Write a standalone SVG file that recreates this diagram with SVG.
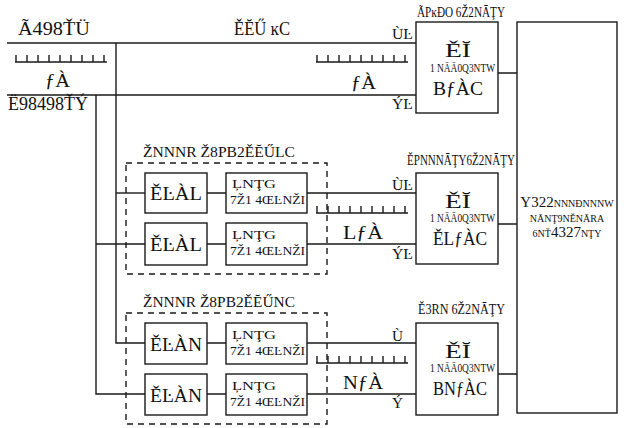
<svg xmlns="http://www.w3.org/2000/svg" width="624" height="428" viewBox="0 0 624 428">
<style>
  .ln { stroke: #1a1a1a; stroke-width: 1.4; fill: none; }
  .bx { stroke: #1a1a1a; stroke-width: 1.4; fill: #fff; }
  .dash { stroke: #1a1a1a; stroke-width: 1.4; fill: none; stroke-dasharray: 6 5; }
  text { font-family: "Liberation Serif", "DejaVu Serif", serif; fill: #111; }
  .lg { font-size: 19px; }
  .md { font-size: 15px; }
  .sm { font-size: 13px; }
  .xs { font-size: 10px; }
</style>
<defs>
  <g id="scale">
    <path class="ln" d="M0 8 H92 M1 8 V1 M12 8 V1 M23 8 V1 M34 8 V1 M45 8 V1 M56 8 V1 M67 8 V1 M78 8 V1 M89 8 V1"/>
  </g>
</defs>

<!-- connectors -->
<g id="connectors">
  <path class="ln" d="M7 43 H416"/>
  <path class="ln" d="M7 95 H416"/>
  <path class="ln" d="M116 43 V343 H145"/>
  <path class="ln" d="M96 95 V394 H145"/>
  <path class="ln" d="M116 193 H145"/>
  <path class="ln" d="M96 244 H145"/>
  <path class="ln" d="M207 193 H226 M207 244 H226 M207 343 H226 M207 394 H226"/>
  <path class="ln" d="M307 193 H416 M307 244 H416 M307 343 H416 M307 394 H416"/>
  <path class="ln" d="M498 73 H517 M498 224 H517 M498 374 H517"/>
</g>

<!-- scales and line labels -->
<g id="annotations">
  <use href="#scale" x="15" y="54"/>
  <use href="#scale" x="316" y="54"/>
  <use href="#scale" x="316" y="205"/>
  <use href="#scale" x="316" y="355"/>
  <text class="lg" x="18" y="35" textLength="72" lengthAdjust="spacingAndGlyphs">Ã498ŤÜ</text>
  <text class="lg" x="234" y="35" textLength="56" lengthAdjust="spacingAndGlyphs">ĚĔŰ ĸC</text>
  <text class="lg" x="45" y="87" textLength="25" lengthAdjust="spacingAndGlyphs">ƒÀ</text>
  <text class="lg" x="8" y="110" textLength="80" lengthAdjust="spacingAndGlyphs">Ë98498ŤÝ</text>
  <text class="lg" x="351" y="89" textLength="25" lengthAdjust="spacingAndGlyphs">ƒÀ</text>
  <text class="lg" x="343" y="239" textLength="40" lengthAdjust="spacingAndGlyphs">LƒÀ</text>
  <text class="lg" x="343" y="389" textLength="40" lengthAdjust="spacingAndGlyphs">NƒÀ</text>
  <text class="md" x="392" y="39" textLength="21" lengthAdjust="spacingAndGlyphs">ÙĿ</text>
  <text class="md" x="392" y="109" textLength="21" lengthAdjust="spacingAndGlyphs">ÝĿ</text>
  <text class="md" x="392" y="190" textLength="21" lengthAdjust="spacingAndGlyphs">ÙĿ</text>
  <text class="md" x="392" y="259" textLength="21" lengthAdjust="spacingAndGlyphs">ÝĿ</text>
  <text class="md" x="392" y="341" textLength="11" lengthAdjust="spacingAndGlyphs">Ù</text>
  <text class="md" x="392" y="408" textLength="11" lengthAdjust="spacingAndGlyphs">Ý</text>
</g>

<!-- group 1 -->
<g id="group1">
  <text class="md" x="143" y="157" textLength="152" lengthAdjust="spacingAndGlyphs">ŽNNNR Ž8PB2ĚĔŰLC</text>
  <rect class="dash" x="126" y="163" width="201" height="111"/>
</g>
<g id="nodeA1">
  <rect class="bx" x="145" y="173" width="62" height="40"/>
  <text class="lg" x="176" y="200" text-anchor="middle" textLength="52" lengthAdjust="spacingAndGlyphs">ĚĿÀL</text>
</g>
<g id="nodeB1">
  <rect class="bx" x="226" y="173" width="81" height="40"/>
  <text class="sm" x="232" y="188" textLength="44" lengthAdjust="spacingAndGlyphs">ĻNŢG</text>
  <text class="sm" x="230" y="204" textLength="75" lengthAdjust="spacingAndGlyphs">7Ž1 4ŒĿNŽI</text>
</g>
<g id="nodeA2">
  <rect class="bx" x="145" y="223" width="62" height="42"/>
  <text class="lg" x="176" y="251" text-anchor="middle" textLength="52" lengthAdjust="spacingAndGlyphs">ĚĿÀL</text>
</g>
<g id="nodeB2">
  <rect class="bx" x="226" y="223" width="81" height="42"/>
  <text class="sm" x="232" y="239" textLength="44" lengthAdjust="spacingAndGlyphs">ĻNŢG</text>
  <text class="sm" x="230" y="255" textLength="75" lengthAdjust="spacingAndGlyphs">7Ž1 4ŒĿNŽI</text>
</g>

<!-- group 2 -->
<g id="group2">
  <text class="md" x="143" y="307" textLength="152" lengthAdjust="spacingAndGlyphs">ŽNNNR Ž8PB2ĚĔŰNC</text>
  <rect class="dash" x="126" y="313" width="201" height="111"/>
</g>
<g id="nodeA3">
  <rect class="bx" x="145" y="323" width="62" height="41"/>
  <text class="lg" x="176" y="351" text-anchor="middle" textLength="52" lengthAdjust="spacingAndGlyphs">ĚĿÀN</text>
</g>
<g id="nodeB3">
  <rect class="bx" x="226" y="323" width="81" height="41"/>
  <text class="sm" x="232" y="339" textLength="44" lengthAdjust="spacingAndGlyphs">ĻNŢG</text>
  <text class="sm" x="230" y="355" textLength="75" lengthAdjust="spacingAndGlyphs">7Ž1 4ŒĿNŽI</text>
</g>
<g id="nodeA4">
  <rect class="bx" x="145" y="374" width="62" height="41"/>
  <text class="lg" x="176" y="402" text-anchor="middle" textLength="52" lengthAdjust="spacingAndGlyphs">ĚĿÀN</text>
</g>
<g id="nodeB4">
  <rect class="bx" x="226" y="374" width="81" height="41"/>
  <text class="sm" x="232" y="390" textLength="44" lengthAdjust="spacingAndGlyphs">ĻNŢG</text>
  <text class="sm" x="230" y="406" textLength="75" lengthAdjust="spacingAndGlyphs">7Ž1 4ŒĿNŽI</text>
</g>

<!-- right-hand units -->
<g id="unit1">
  <text class="md" x="417" y="17" textLength="88" lengthAdjust="spacingAndGlyphs">ÃPĸĐO 6Ž2NĀŢY</text>
  <rect class="bx" x="416" y="22" width="82" height="91"/>
  <text class="lg" x="458" y="57" text-anchor="middle" textLength="26" lengthAdjust="spacingAndGlyphs">ĚĬ</text>
  <text class="sm" x="430" y="72" textLength="65" lengthAdjust="spacingAndGlyphs">1 NĀĀ0Q3NTW</text>
  <text class="lg" x="433" y="95" textLength="50" lengthAdjust="spacingAndGlyphs">BƒÀC</text>
</g>
<g id="unit2">
  <text class="md" x="407" y="165" textLength="108" lengthAdjust="spacingAndGlyphs">ĚPNNNĀŢY6Ž2NĀŢY</text>
  <rect class="bx" x="416" y="173" width="82" height="91"/>
  <text class="lg" x="458" y="208" text-anchor="middle" textLength="26" lengthAdjust="spacingAndGlyphs">ĚĬ</text>
  <text class="sm" x="430" y="222" textLength="65" lengthAdjust="spacingAndGlyphs">1 NĀĀ0Q3NTW</text>
  <text class="lg" x="433" y="245" textLength="54" lengthAdjust="spacingAndGlyphs">ĚLƒÀC</text>
</g>
<g id="unit3">
  <text class="md" x="418" y="314" textLength="87" lengthAdjust="spacingAndGlyphs">Ě3RN 6Ž2NĀŢY</text>
  <rect class="bx" x="416" y="323" width="82" height="92"/>
  <text class="lg" x="458" y="358" text-anchor="middle" textLength="26" lengthAdjust="spacingAndGlyphs">ĚĬ</text>
  <text class="sm" x="430" y="372" textLength="65" lengthAdjust="spacingAndGlyphs">1 NĀĀ0Q3NTW</text>
  <text class="lg" x="433" y="395" textLength="54" lengthAdjust="spacingAndGlyphs">BNƒÀC</text>
</g>
<g id="unit4">
  <rect class="bx" x="517" y="22" width="100" height="391"/>
  <text x="567" y="207" text-anchor="middle"><tspan class="md">Y322</tspan><tspan class="xs">NNNĐNNNW</tspan></text>
  <text class="xs" x="567" y="222" text-anchor="middle">NĀNŢ9NĔNĀRA</text>
  <text x="567" y="237" text-anchor="middle"><tspan class="xs">6NŤ</tspan><tspan class="md">4327</tspan><tspan class="xs">NŢY</tspan></text>
</g>
</svg>
